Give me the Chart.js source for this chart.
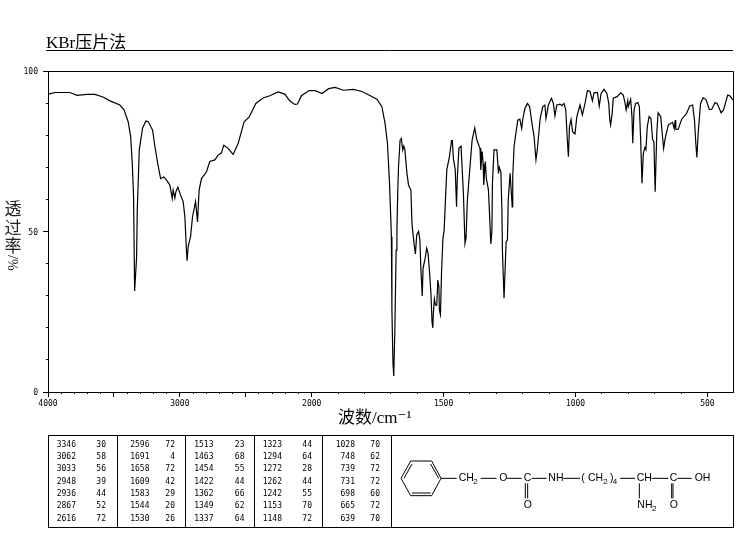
<!DOCTYPE html>
<html>
<head>
<meta charset="utf-8">
<style>html,body{margin:0;padding:0;background:#fff}#wrap{position:relative;width:737px;height:539px}</style>
<script src="https://cdn.jsdelivr.net/npm/chart.js@4"></script>
</head>
<body>
<div id="wrap"><canvas id="c" width="737" height="539"></canvas></div>
<script>
const wavenumbers = [
3995,3947,3833,3780,3705,3644,3583,3530,3455,3424,3392,3373,3361,3351,3343,3328,3323,3308,3283,3258,
3240,3207,3189,3168,3146,3121,3101,3076,3058,3051,3038,3030,3015,2995,2975,2962,2949,2945,2937,2919,
2904,2881,2866,2854,2836,2798,2773,2735,2710,2684,2667,2634,2596,2558,2513,2475,2424,2369,2318,2255,
2204,2167,2129,2108,2078,2020,1987,1961,1936,1911,1880,1842,1810,1778,1753,1734,1722,1713,1705,1698,
1696,1692,1689,1685,1680,1677,1674,1671,1665,1660,1655,1651,1647,1639,1633,1624,1620,1614,1613,1607,
1602,1595,1590,1586,1581,1578,1570,1564,1559,1554,1548,1544,1541,1539,1535,1531,1526,1522,1518,1516,
1512,1508,1503,1498,1488,1478,1470,1467,1463,1456,1451,1448,1442,1434,1425,1420,1419,1415,1410,1400,
1392,1382,1374,1362,1359,1354,1350,1348,1342,1338,1330,1321,1317,1315,1309,1298,1292,1289,1283,1279,
1277,1271,1267,1263,1258,1255,1248,1240,1238,1233,1228,1219,1211,1204,1200,1192,1182,1174,1165,1157,
1150,1145,1134,1124,1116,1112,1103,1091,1084,1078,1071,1059,1051,1044,1037,1031,1027,1023,1017,1011,
1002,995,983,974,964,955,945,936,930,917,910,903,892,881,874,870,867,861,857,842,
829,819,812,808,802,800,791,786,783,778,772,764,758,753,748,743,737,733,728,721,
714,708,703,698,692,687,677,669,666,660,648,632,626,622,620,611,598,579,567,556,
549,544,540,535,526,516,505,493,484,471,463,448,439,423,414,404];
const transmittance = [
92.8,93.3,93.3,92.4,92.7,92.7,91.9,90.7,89.4,87.9,84.2,79.5,71.3,60.8,31.5,42,56.7,75.4,82.2,84.4,
84.2,81.6,76.4,71.2,66.5,67,66,64.5,60.3,62.9,60.4,62.4,63.8,61.4,59.3,54.6,43.3,40.9,45.3,48.4,
54.6,59.3,53,62.9,66.5,68.6,71.8,72.3,73.8,74.5,76.9,75.9,74,77.4,84.2,85.6,89.9,91.6,92.3,93.5,
92.8,90.7,89.6,89.7,92.3,93.9,93.9,93,94.5,94.9,94,94.3,93.6,92.3,91.2,88.9,83.7,77.5,65,48.4,
25.5,8.9,5,18.8,44.2,50.5,61.9,70.2,78.5,79,75.4,76.6,75.6,68.1,64.5,62.9,52.5,47.6,46.8,43,
48.9,50,47.4,38,29.9,38.5,41.6,44.8,43.2,38,30.7,21.9,20,24.5,29,27.1,27,34.9,32.8,25.5,
24.1,37,47.4,50.5,69.2,73.3,78.3,78.3,72.8,69.2,57.7,67,75.9,76.6,61.9,48.9,46.3,47.9,59.8,70.2,
78.5,82.3,78.5,75.9,69.2,74.9,71,64.5,71.8,66.5,62.9,46.1,50,65,75.4,75.4,68.1,70,68.6,56.7,
43.7,29.2,38,46.8,47.4,59.8,68.1,57.7,67,76.4,79.5,84.7,85,82.1,84.9,88.3,89.9,88.9,83.7,79.5,
72.3,75.4,85.2,88.9,89.4,85.2,89.4,91.5,89.9,86,89.4,89.7,89.2,89.9,87.9,78.5,73.3,82.6,84.9,81.1,
80.4,85.8,89.4,86.3,89.9,93.9,93.6,90.7,93.2,93.3,89.1,93,94.3,93,89.9,84.7,83.2,86.8,91.5,92,
93.2,92.5,89.9,87.9,90.7,88.9,91.2,85.8,77.5,87.9,89.9,90.2,88.9,78.5,65,74.3,76.2,75.5,82.6,85.8,
85.2,78.7,78,62.4,80.6,87,85.8,78.5,75.9,79,83.2,84,82.1,84.7,81.9,81.8,84.9,86.8,89.1,89.4,
84.7,77.5,73.1,80.6,89.9,91.7,91,88,88,90.2,89.9,87,87.9,92.5,92.2,91];

const xMajorTicks = [4000,3500,3000,2500,2000,1500,1000,500];
const xLabelled = [4000,3000,2000,1500,1000,500];
const xMinorTicks = [3900,3800,3700,3600,3400,3300,3200,3100,2900,2800,2700,2600,2400,2300,2200,2100,
  1900,1800,1700,1600,1400,1300,1200,1100,900,800,700,600];
const yMajorTicks = [0,50,100];
const yMinorTicks = [10,20,30,40,60,70,80,90];

const chartTitle = "KBr压片法";
const xTitle = "波数/cm⁻¹";
const yTitleChars = ["透","过","率"];
const yTitleUnit = "/%";

const peakWave = [3346,3062,3033,2948,2936,2867,2616, 2596,1691,1658,1609,1583,1544,1530,
  1513,1463,1454,1422,1362,1349,1337, 1323,1294,1272,1262,1242,1153,1148, 1028,748,739,731,698,665,639];
const peakT = [30,58,56,39,44,52,72, 72,4,72,42,29,20,26, 23,68,55,44,66,62,64, 44,64,28,44,55,70,72, 70,62,72,72,60,72,70];

class IrScale extends Chart.LinearScale {
  static id = 'ir';
  static defaults = Chart.LinearScale.defaults;
  buildTicks() { return this.options.tickValues.map(v => ({value: v})); }
  getPixelForValue(v) {
    const b = 0.385, hi = 4000, mid = 2000, lo = 403;
    const f = v >= mid ? (hi - v) / (hi - mid) * b : b + (mid - v) / (mid - lo) * (1 - b);
    return this.left + f * this.width;
  }
}
Chart.register(IrScale);

const BLACK = '#000';
const tickFont = {family: '"DejaVu Sans Mono"', size: 8};

const decor = {
  id: 'decor',
  afterDraw(chart) {
    const ctx = chart.ctx, a = chart.chartArea;
    ctx.save();
    ctx.fillStyle = BLACK; ctx.strokeStyle = BLACK; ctx.lineWidth = 1;
    const line = (x1,y1,x2,y2) => { ctx.beginPath(); ctx.moveTo(x1,y1); ctx.lineTo(x2,y2); ctx.stroke(); };
    // plot frame
    line(a.left+0.5, Math.round(a.top)+0.5, Math.round(a.right)+0.5, Math.round(a.top)+0.5);
    line(Math.round(a.right)+0.5, Math.round(a.top)+0.5, Math.round(a.right)+0.5, Math.round(a.bottom)+0.5);
    // heading
    ctx.textBaseline = 'alphabetic'; ctx.textAlign = 'left';
    ctx.font = '17px "Liberation Serif","Noto Sans CJK SC"';
    ctx.fillText(chartTitle, 46, 48);
    line(46, 50.5, 733, 50.5);
    // axis titles
    ctx.font = '17px "Liberation Serif","DejaVu Serif","Noto Sans CJK SC"';
    ctx.fillText(xTitle, 338, 423);
    ctx.font = '17px "Noto Sans CJK SC"'; ctx.textAlign = 'center';
    ctx.fillStyle = '#222';
    yTitleChars.forEach((ch, i) => ctx.fillText(ch, 13, 215 + i * 18.5));
    ctx.save();
    ctx.translate(8, 255); ctx.rotate(Math.PI / 2);
    ctx.textAlign = 'left'; ctx.font = '14px "Liberation Serif"';
    ctx.fillText(yTitleUnit, 0, 0);
    ctx.restore();
    ctx.fillStyle = BLACK;
    // peak table
    const top = 435.5, bot = 527.5, L = 48.5, R = 733.5;
    ctx.strokeRect(L, top, R - L, bot - top);
    [117.5,185.5,254.5,322.5,391.5].forEach(x => line(x, top, x, bot));
    const colW = [76,149.5,213.5,282,355], colT = [106,175,244.5,312,380];
    ctx.font = '8px "DejaVu Sans Mono"'; ctx.textAlign = 'right'; ctx.textBaseline = 'middle';
    peakWave.forEach((w, i) => {
      const col = Math.floor(i / 7), row = i % 7, y = 444.5 + row * 12.33;
      ctx.fillText(String(w), colW[col], y);
      ctx.fillText(String(peakT[i]), colT[col], y);
    });
    // structure
    const P = (zx, zy) => [390 + zx / 3, 430 + zy / 3];
    const seg = (a1,b1,a2,b2) => { const p = P(a1,b1), q = P(a2,b2); line(p[0],p[1],q[0],q[1]); };
    [[33,145,62,93],[62,93,125,93],[125,93,153,145],[153,145,125,197],[125,197,62,197],[62,197,33,145],
     [42,145,66,102],[122,102,146,145],[66,189,122,189],
     [153,145,200,145],[272,145,320,145],[350,145,395,145],[425,145,470,145],[520,145,570,145],
     [690,145,735,145],[785,145,835,145],[862,145,905,145],
     [406,160,406,205],[413,160,413,205],[845,160,845,205],[849,160,849,205],[748,160,748,205]
    ].forEach(s => seg(...s));
    ctx.font = '10.5px "Liberation Sans"'; ctx.textAlign = 'left'; ctx.textBaseline = 'middle';
    const tx = (s, zx, zy, size) => { const p = P(zx, zy); if (size) ctx.font = size + 'px "Liberation Sans"'; ctx.fillText(s, p[0], p[1]); ctx.font = '10.5px "Liberation Sans"'; };
    tx("CH", 206, 145); tx("2", 250, 155, 8);
    tx("O", 328, 145); tx("C", 401, 145);
    tx("O", 401, 224); tx("NH", 475, 145);
    tx("(", 574, 145); tx("CH", 594, 145); tx("2", 640, 155, 8); tx(")", 660, 145); tx("4", 668, 155, 8);
    tx("CH", 740, 145); tx("NH", 742, 226); tx("2", 786, 236, 8);
    tx("C", 839, 145); tx("O", 839, 224); tx("OH", 914, 145);
    ctx.restore();
  }
};

new Chart(document.getElementById('c'), {
  type: 'line',
  data: {
    datasets: [{
      data: wavenumbers.map((w, i) => ({x: w, y: transmittance[i]})),
      borderColor: BLACK, borderWidth: 1.2, pointRadius: 0, tension: 0, fill: false, xAxisID: 'x', yAxisID: 'y'
    }]
  },
  options: {
    responsive: false, animation: false, devicePixelRatio: 1,
    layout: {padding: {top: 71, right: 4, left: 0, bottom: 0}},
    plugins: {legend: {display: false}, tooltip: {enabled: false}, title: {display: false}},
    scales: {
      x: {
        type: 'ir', min: 403, max: 4000, position: 'bottom', weight: 0, tickValues: xMajorTicks,
        afterFit: s => { s.height = 147; },
        grid: {drawOnChartArea: false, drawTicks: true, tickLength: 5, color: BLACK, tickColor: BLACK},
        border: {color: BLACK, width: 1},
        ticks: {autoSkip: false, maxRotation: 0, padding: 2, color: BLACK, font: tickFont,
          callback: v => xLabelled.includes(v) ? String(v) : ''}
      },
      xMinor: {
        axis: 'x', type: 'ir', min: 403, max: 4000, position: 'bottom', weight: -1, tickValues: xMinorTicks,
        afterFit: s => { s.height = 0; },
        grid: {drawOnChartArea: false, drawTicks: true, tickLength: 2, color: BLACK, tickColor: BLACK},
        border: {display: false},
        ticks: {display: false, autoSkip: false}
      },
      y: {
        type: 'linear', min: 0, max: 100, position: 'left', weight: 0,
        afterBuildTicks: s => { s.ticks = yMajorTicks.map(v => ({value: v})); },
        afterFit: s => { s.width = 48; },
        grid: {drawOnChartArea: false, drawTicks: true, tickLength: 5, color: BLACK, tickColor: BLACK},
        border: {color: BLACK, width: 1},
        ticks: {padding: 5, labelOffset: 1, color: BLACK, font: tickFont, autoSkip: false, callback: v => String(v)}
      },
      yMinor: {
        axis: 'y', type: 'linear', min: 0, max: 100, position: 'left', weight: -1,
        afterBuildTicks: s => { s.ticks = yMinorTicks.map(v => ({value: v})); },
        afterFit: s => { s.width = 0; },
        grid: {drawOnChartArea: false, drawTicks: true, tickLength: 2, color: BLACK, tickColor: BLACK},
        border: {display: false},
        ticks: {display: false, autoSkip: false}
      }
    }
  },
  plugins: [decor]
});
</script>
</body>
</html>
